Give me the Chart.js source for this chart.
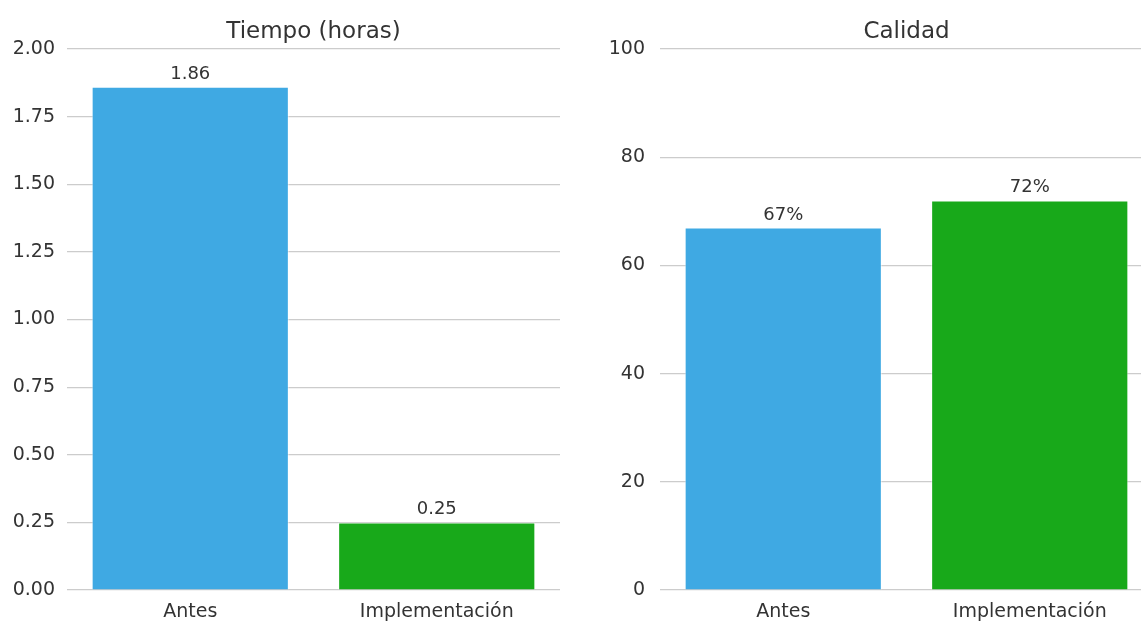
<!DOCTYPE html>
<html>
<head>
<meta charset="utf-8">
<script src="https://cdn.jsdelivr.net/npm/chart.js@4/dist/chart.umd.min.js"></script>
<style>
  html, body { margin: 0; padding: 0; overflow: hidden; background: #ffffff; width: 1141px; height: 622px; }
  .panel { position: absolute; top: 0; height: 622px; }
  #panelTiempo { left: 0; width: 570px; }
  #panelCalidad { left: 590px; width: 573px; }
</style>
</head>
<body>
<div class="panel" id="panelTiempo"><canvas id="tiempoChart"></canvas></div>
<div class="panel" id="panelCalidad"><canvas id="calidadChart"></canvas></div>
<script>
// Categories and measured values
const categories = ['Antes', 'Implementación'];
const tiempoValues = [1.86, 0.25];
const calidadValues = [67, 72];
const barColors = ['#3FA9E3', '#18A91A'];

// Axis ranges and tick steps
const tiempoRange = [0, 2];
const tiempoStep = 0.25;
const calidadRange = [0, 100];
const calidadStep = 20;

const FONT = "'DejaVu Sans', sans-serif";
const TEXT = '#333333';
const GRID = '#cccccc';

Chart.defaults.font.family = FONT;
Chart.defaults.color = TEXT;

// Writes each bar's value just above it
const valueLabels = {
  id: 'valueLabels',
  afterDatasetsDraw(chart, args, opts) {
    const ctx = chart.ctx;
    const meta = chart.getDatasetMeta(0);
    const values = chart.data.datasets[0].data;
    ctx.save();
    ctx.font = '18px ' + FONT;
    ctx.fillStyle = TEXT;
    ctx.textAlign = 'center';
    ctx.textBaseline = 'alphabetic';
    meta.data.forEach((bar, i) => {
      ctx.fillText(opts.format(values[i]), bar.x, bar.y - 8);
    });
    ctx.restore();
  }
};

function makeChart(id, title, values, range, step, tickFmt, valueFmt, yWidth, yPad) {
  return new Chart(document.getElementById(id), {
    type: 'bar',
    data: {
      labels: categories,
      datasets: [{
        data: values,
        backgroundColor: barColors,
        borderColor: 'rgba(255,255,255,0.55)',
        borderWidth: 1,
        categoryPercentage: 1.0,
        barPercentage: 0.8
      }]
    },
    options: {
      responsive: true,
      maintainAspectRatio: false,
      animation: false,
      layout: { padding: { top: 5, right: 10, left: 0, bottom: 0 } },
      plugins: {
        legend: { display: false },
        tooltip: { enabled: false },
        title: {
          display: true,
          fullSize: false,
          text: title,
          color: TEXT,
          font: { family: FONT, size: 23, weight: 'normal' },
          padding: { top: 13, bottom: 3.4 }
        },
        valueLabels: { format: valueFmt }
      },
      scales: {
        x: {
          grid: { display: false, drawTicks: false },
          border: { display: false },
          ticks: { color: TEXT, font: { family: FONT, size: 19 }, padding: 11 },
          afterFit(scale) { scale.height = 32; }
        },
        y: {
          min: range[0],
          max: range[1],
          grid: { color: GRID, lineWidth: 1.2, drawTicks: false },
          border: { display: false },
          ticks: {
            stepSize: step,
            color: TEXT,
            font: { family: FONT, size: 19 },
            padding: yPad,
            callback: tickFmt
          },
          afterFit(scale) { scale.width = yWidth; }
        }
      }
    },
    plugins: [valueLabels]
  });
}

makeChart('tiempoChart', 'Tiempo (horas)', tiempoValues, tiempoRange, tiempoStep,
  v => Number(v).toFixed(2), v => v.toFixed(2), 67, 12);
makeChart('calidadChart', 'Calidad', calidadValues, calidadRange, calidadStep,
  v => String(v), v => v + '%', 70, 15);
</script>
</body>
</html>
